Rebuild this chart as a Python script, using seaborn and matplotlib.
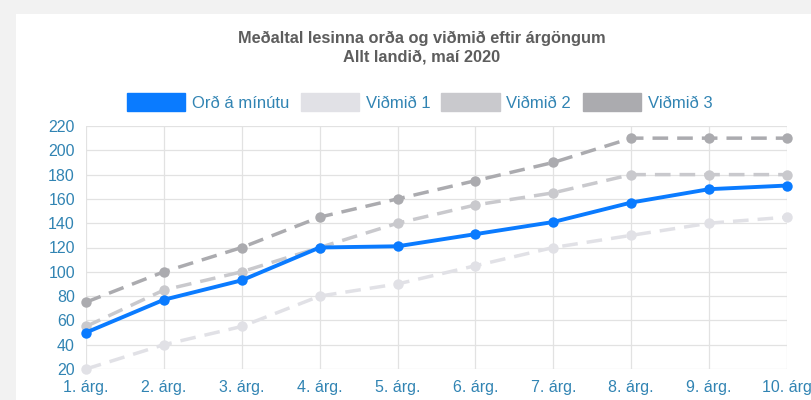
import pandas as pd
import seaborn as sns
import matplotlib.pyplot as plt
from matplotlib.patches import Rectangle, Patch

# Data
grades = ["1. árg.", "2. árg.", "3. árg.", "4. árg.", "5. árg.",
          "6. árg.", "7. árg.", "8. árg.", "9. árg.", "10. árg"]
ord_a_minutu = [50, 77, 93, 120, 121, 131, 141, 157, 168, 171]
vidmid_1 = [20, 40, 55, 80, 90, 105, 120, 130, 140, 145]
vidmid_2 = [55, 85, 100, 120, 140, 155, 165, 180, 180, 180]
vidmid_3 = [75, 100, 120, 145, 160, 175, 190, 210, 210, 210]

series_names = ["Orð á mínútu", "Viðmið 1", "Viðmið 2", "Viðmið 3"]
colors = {"Orð á mínútu": "#0a7bff", "Viðmið 1": "#e1e1e6",
          "Viðmið 2": "#c9c9cd", "Viðmið 3": "#ababaf"}
label_color = "#3184b3"

frames = []
for name, vals in zip(series_names, [ord_a_minutu, vidmid_1, vidmid_2, vidmid_3]):
    frames.append(pd.DataFrame({"grade": range(len(grades)), "value": vals, "series": name}))
data = pd.concat(frames, ignore_index=True)

sns.set_style("white")
plt.rcParams["font.family"] = ["Liberation Sans", "DejaVu Sans"]

fig = plt.figure(figsize=(8.11, 4.0), dpi=100, facecolor="#f2f2f2")
# white card behind everything
fig.patches.append(Rectangle((16 / 811, 0), 1, 1 - 14 / 400, transform=fig.transFigure,
                             facecolor="white", edgecolor="none", zorder=-10))
ax = fig.add_axes([86 / 811, 1 - 369 / 400, (787 - 86) / 811, (369 - 126) / 400])
ax.set_facecolor("white")
ax.set_zorder(1)

# draw the reference lines first, blue line on top
for i, name in enumerate(reversed(series_names)):
    sub = data[data["series"] == name]
    is_main = name == "Orð á mínútu"
    sns.lineplot(data=sub, x="grade", y="value", ax=ax, color=colors[name],
                 linewidth=2.8 if is_main else 2.5, marker="o", markersize=7.5,
                 markeredgewidth=0, legend=False, zorder=3 + i, clip_on=False)
    if not is_main:
        ax.lines[-1].set_linestyle((0, (4.5, 2.6)))

ax.set_xlim(0, len(grades) - 1)
ax.set_ylim(20, 220)
ax.set_xticks(range(len(grades)))
ax.set_xticklabels(grades)
ax.set_yticks(range(20, 221, 20))
ax.grid(True, color="#e2e2e2", linewidth=0.9)
for s in ax.spines.values():
    s.set_visible(False)
ax.tick_params(axis="both", colors="#d8d8d8", labelcolor=label_color, labelsize=11.5,
               length=6, width=0.8, pad=2)
ax.set_xlabel("")
ax.set_ylabel("")

fig.text(0.5 + 16 / 811, 1 - 38 / 400, "Meðaltal lesinna orða og viðmið eftir árgöngum",
         ha="center", va="center", fontsize=11.8, fontweight="bold", color="#5d5d5d")
fig.text(0.5 + 16 / 811, 1 - 57 / 400, "Allt landið, maí 2020",
         ha="center", va="center", fontsize=11.8, fontweight="bold", color="#5d5d5d")

handles = [Patch(facecolor=colors[n], edgecolor=colors[n], label=n) for n in series_names]
leg = fig.legend(handles=handles, loc="center", bbox_to_anchor=(0.5 + 14 / 811, 1 - 102 / 400),
                 ncol=4, frameon=False, handlelength=3.5, handleheight=1.2,
                 handletextpad=0.4, columnspacing=0.68, fontsize=12)
for t in leg.get_texts():
    t.set_color(label_color)

fig.savefig("out.png", dpi=100, facecolor=fig.get_facecolor())
